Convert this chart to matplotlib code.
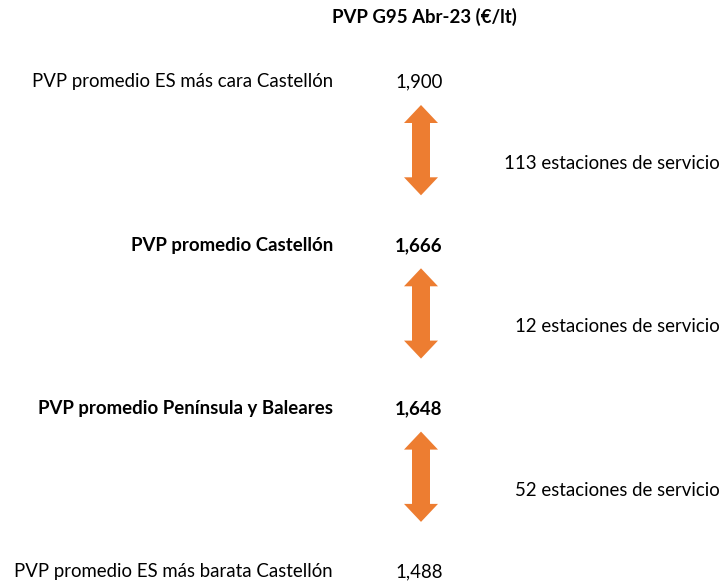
import matplotlib.pyplot as plt
from matplotlib.patches import Polygon

plt.rcParams['font.family'] = ['Lato', 'DejaVu Sans']

title = "PVP G95 Abr-23 (€/lt)"
labels = [
    "PVP promedio ES más cara Castellón",
    "PVP promedio Castellón",
    "PVP promedio Península y Baleares",
    "PVP promedio ES más barata Castellón",
]
values = [1.900, 1.666, 1.648, 1.488]
bold = [False, True, True, False]
estaciones = [113, 12, 52]

W, H = 723, 587
fig = plt.figure(figsize=(W / 100, H / 100), dpi=100)
ax = fig.add_axes([0, 0, 1, 1])
ax.set_xlim(0, W)
ax.set_ylim(H, 0)
ax.axis("off")

orange = "#ED7D31"
fs = 13.4
y0, step = 82, 163.3
label_x, value_x, right_x = 333, 419, 720


def double_arrow(xc, top, bottom, shaft=18, head=34, head_len=18):
    s, h = shaft / 2, head / 2
    pts = [
        (xc, top), (xc + h, top + head_len), (xc + s, top + head_len),
        (xc + s, bottom - head_len), (xc + h, bottom - head_len), (xc, bottom),
        (xc - h, bottom - head_len), (xc - s, bottom - head_len),
        (xc - s, top + head_len), (xc - h, top + head_len),
    ]
    ax.add_patch(Polygon(pts, closed=True, facecolor=orange, edgecolor="none"))


ax.text(424, 17, title, ha="center", va="center", fontsize=fs, fontweight="bold")

for i, (lab, v, b) in enumerate(zip(labels, values, bold)):
    y = y0 + i * step
    w = "bold" if b else "normal"
    ax.text(label_x, y, lab, ha="right", va="center", fontsize=fs, fontweight=w)
    ax.text(value_x, y, f"{v:.3f}".replace(".", ","), ha="center", va="center",
            fontsize=fs, fontweight=w)

for i, n in enumerate(estaciones):
    ya = y0 + i * step
    yb = y0 + (i + 1) * step
    double_arrow(421, ya + 23, yb - 50)
    ax.text(right_x, (ya + yb) / 2, f"{n} estaciones de servicio", ha="right",
            va="center", fontsize=fs)

fig.savefig("out.png", dpi=100, facecolor="white")
